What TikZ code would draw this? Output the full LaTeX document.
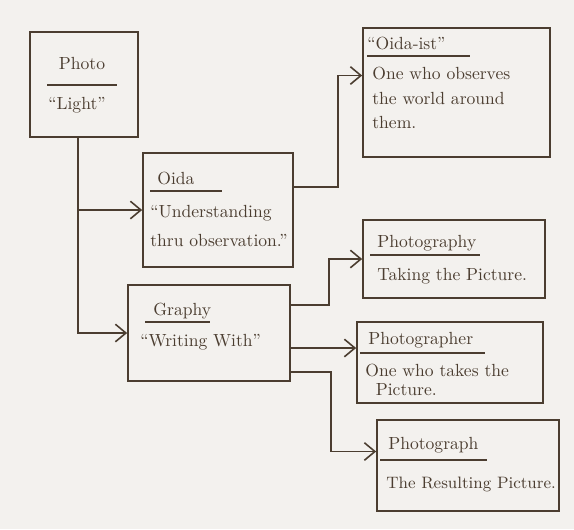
\documentclass[tikz,border=0pt]{standalone}
\usetikzlibrary{arrows.meta,calc}
\definecolor{ink}{HTML}{4B3D30}
\definecolor{paper}{HTML}{F3F1EE}
\begin{document}
\begin{tikzpicture}[x=0.02cm,y=-0.02cm,font=\normalsize,color=ink]
    \tikzstyle{card} = [draw=ink, line width=1pt, rectangle, inner sep=0pt]
    \tikzstyle{head} = [anchor=west, inner sep=0pt]
    \tikzstyle{body} = [anchor=west, align=left, inner sep=0pt]
    \tikzstyle{rule} = [draw=ink, line width=0.8pt]
    \tikzstyle{arr} = [draw=ink, line width=0.9pt, -{Straight Barb[length=6pt,width=10pt]}]

    % paper
    \fill[paper] (0,0) rectangle (574,529);
    \useasboundingbox (0,0) rectangle (574,529);

    % boxes
    \node[card, minimum width=2.16cm, minimum height=2.10cm] (photo) at (84,84.5) {};
    \node[card, minimum width=3.00cm, minimum height=2.28cm] (oida) at (218,210) {};
    \node[card, minimum width=3.74cm, minimum height=2.58cm] (ist) at (456.5,92.5) {};
    \node[card, minimum width=3.24cm, minimum height=1.92cm] (graphy) at (209,333) {};
    \node[card, minimum width=3.64cm, minimum height=1.56cm] (photography) at (454,259) {};
    \node[card, minimum width=3.72cm, minimum height=1.62cm] (photographer) at (450,362.5) {};
    \node[card, minimum width=3.64cm, minimum height=1.82cm] (photograph) at (468,465.5) {};

    % texts
    \node[inner sep=0pt] (photoT) at (82,63) {Photo};
    \draw[rule] (47,85) -- (117,85);
    \node[inner sep=0pt] (photoB) at (77,105) {``Light''};

    \node[head] (oidaT) at (157,178) {Oida};
    \draw[rule] (150,191) -- (222,191);
    \node[body] (oidaB) at (150,226) {``Understanding\\[4pt] thru observation.''};

    \node[head] (istT) at (367,43) {``Oida-ist''};
    \draw[rule] (367,56) -- (470,56);
    \node[body] (istB) at (372,98) {One who observes\\[2pt] the world around\\[2pt] them.};

    \node[head] (graphyT) at (153,311) {Graphy};
    \draw[rule] (145,322) -- (210,322);
    \node[body] (graphyB) at (140,342) {``Writing With''};

    \node[head] (photographyT) at (377,243) {Photography};
    \draw[rule] (370,255) -- (480,255);
    \node[body] (photographyB) at (377,276) {Taking the Picture.};

    \node[head] (photographerT) at (368,340) {Photographer};
    \draw[rule] (360,353) -- (485,353);
    \node[body] (photographerB) at (365,380) {One who takes the\\[-1pt] \hspace{6pt}Picture.};

    \node[head] (photographT) at (388,445) {Photograph};
    \draw[rule] (380,460) -- (487,460);
    \node[body, font=\fontsize{9.4}{11}\selectfont] (photographB) at (386,484) {The Resulting Picture.};

    % connectors
    \coordinate (trunk) at ($(photo.south)+(-6,0)$);
    \draw[arr] (trunk) |- (graphy.west);
    \draw[arr] (trunk |- oida.west) -- (oida.west);

    \coordinate (o1) at ($(oida.east)+(0,-23)$);
    \draw[arr] (o1) -- ++(44,0) |- ($(ist.west)+(0,-17)$);

    \coordinate (g1) at ($(graphy.east)+(0,-28)$);
    \coordinate (g2) at ($(graphy.east)+(0,15)$);
    \coordinate (g3) at ($(graphy.east)+(0,39)$);
    \draw[arr] (g1) -- ++(38,0) |- (photography.west);
    \draw[arr] (g2) -- (g2 -| photographer.west);
    \draw[arr] (g3) -- ++(40,0) |- ($(photograph.west)+(0,-14)$);
\end{tikzpicture}
\end{document}
